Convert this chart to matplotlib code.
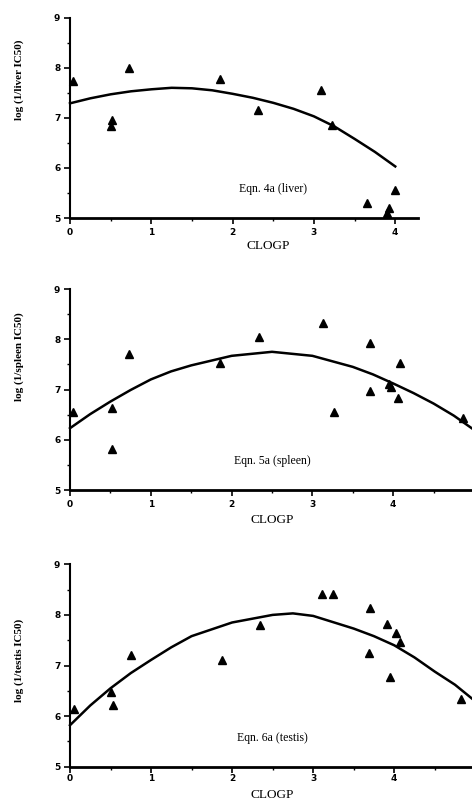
import matplotlib
matplotlib.use("Agg")
import matplotlib.pyplot as plt
from matplotlib.ticker import MultipleLocator

liver_x = [0.04, 0.50, 0.52, 0.73, 1.85, 2.31, 3.09, 3.22, 3.65, 3.90, 3.92, 4.00]
liver_y = [7.74, 6.83, 6.96, 7.99, 7.78, 7.16, 7.56, 6.86, 5.30, 5.10, 5.20, 5.55]
spleen_x = [0.04, 0.52, 0.52, 0.73, 1.86, 2.34, 3.13, 3.27, 3.71, 3.71, 3.95, 3.97, 4.06, 4.08, 4.86]
spleen_y = [6.56, 6.64, 5.81, 7.70, 7.53, 8.05, 8.33, 6.55, 7.93, 6.98, 7.11, 7.04, 6.84, 7.53, 6.43]
testis_x = [0.05, 0.51, 0.53, 0.75, 1.88, 2.34, 3.11, 3.24, 3.70, 3.69, 3.91, 3.95, 4.02, 4.07, 4.83]
testis_y = [6.15, 6.48, 6.21, 7.21, 7.11, 7.80, 8.41, 8.41, 8.13, 7.24, 7.83, 6.78, 7.65, 7.47, 6.33]

# fitted curves
liver_cx = [0, 0.25, 0.5, 0.75, 1.0, 1.25, 1.5, 1.75, 2.0, 2.25, 2.5, 2.75, 3.0, 3.25, 3.5, 3.75, 4.0]
liver_cy = [7.29, 7.39, 7.47, 7.53, 7.57, 7.60, 7.59, 7.55, 7.48, 7.40, 7.30, 7.18, 7.03, 6.83, 6.58, 6.32, 6.03]
spleen_cx = [0, 0.25, 0.5, 0.75, 1.0, 1.25, 1.5, 2.0, 2.5, 3.0, 3.5, 3.75, 4.0, 4.25, 4.5, 4.75, 4.98]
spleen_cy = [6.23, 6.51, 6.76, 6.99, 7.20, 7.36, 7.48, 7.67, 7.75, 7.67, 7.45, 7.30, 7.12, 6.93, 6.72, 6.48, 6.22]
testis_cx = [0, 0.25, 0.5, 0.75, 1.0, 1.25, 1.5, 2.0, 2.5, 2.75, 3.0, 3.5, 3.75, 4.0, 4.25, 4.5, 4.75, 4.98]
testis_cy = [5.82, 6.21, 6.55, 6.85, 7.11, 7.36, 7.58, 7.85, 8.00, 8.03, 7.98, 7.73, 7.58, 7.40, 7.16, 6.88, 6.62, 6.32]

panels = [
    (liver_x, liver_y, liver_cx, liver_cy, "log (1/liver IC50)", "Eqn. 4a (liver)", 4.28),
    (spleen_x, spleen_y, spleen_cx, spleen_cy, "log (1/spleen IC50)", "Eqn. 5a (spleen)", 4.975),
    (testis_x, testis_y, testis_cx, testis_cy, "log (1/testis IC50)", "Eqn. 6a (testis)", 4.96),
]

W, H = 472, 800
# axes boxes in pixels: left, top, right, bottom
boxes = [(70, 17.7, 418, 218), (70, 289, 472, 490), (70, 564.3, 472, 766.7)]
ylab_y = [80, 357, 660]
xlab_y = [246, 520, 795]
tick_pad = [3, 3, 1.5]

fig = plt.figure(figsize=(W / 100, H / 100), dpi=100)
serif = "Liberation Serif"

for i, (px, py, cx, cy, ylab, eqn, xmax) in enumerate(panels):
    l, t, r, b = boxes[i]
    ax = fig.add_axes([l / W, 1 - b / H, (r - l) / W, (b - t) / H])
    ax.plot(cx, cy, color="black", lw=1.8, clip_on=False)
    ax.plot(px, py, linestyle="none", marker="^", ms=5.5, color="black", clip_on=False)
    ax.set_xlim(0, xmax)
    ax.set_ylim(5, 9)
    ax.spines["top"].set_visible(False)
    ax.spines["right"].set_visible(False)
    ax.spines["left"].set_linewidth(1.5)
    ax.spines["bottom"].set_linewidth(2.0)
    ax.xaxis.set_major_locator(MultipleLocator(1))
    ax.xaxis.set_minor_locator(MultipleLocator(0.5))
    ax.yaxis.set_major_locator(MultipleLocator(1))
    ax.yaxis.set_minor_locator(MultipleLocator(0.5))
    ax.tick_params(which="major", direction="out", length=4, width=1.2, labelsize=6.5, pad=3)
    ax.tick_params(axis="x", which="major", pad=tick_pad[i])
    ax.tick_params(which="minor", direction="out", length=2.5, width=1.0)
    ax.set_xticks([0, 1, 2, 3, 4])
    for lab in ax.get_xticklabels() + ax.get_yticklabels():
        lab.set_fontweight("bold")
    fig.text((268 if i == 0 else 272) / W, 1 - xlab_y[i] / H, "CLOGP", family=serif,
             fontsize=9.5, ha="center", va="center")
    fig.text(19 / W, 1 - ylab_y[i] / H, ylab, family=serif, fontsize=8, fontweight="bold",
             rotation=90, ha="center", va="center")
    ax.text(2.5, 5.57, eqn, family=serif, fontsize=8.5, ha="center", va="center")

fig.savefig("out.png", dpi=100)
